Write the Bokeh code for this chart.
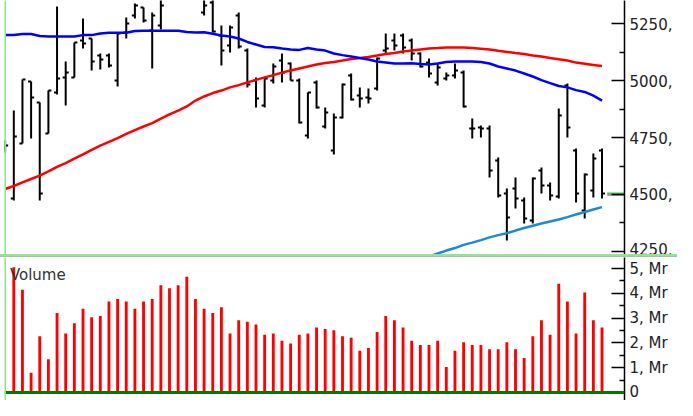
from bokeh.plotting import figure
from bokeh.models import Range1d, LinearAxis, FixedTicker, Span, Label, Div, Grid
from bokeh.layouts import column
from bokeh.embed import file_html
from bokeh.resources import INLINE

# ---- data ----
opens = [4702, 4482, 4724, 4997, 4904, 4768, 4948, 5014, 5014, 5177,
         5186, 5111, 5111, 5001, 5212, 5287, 5323, 5221, 5243, 5441,
         5485, 5529, 5463, 5300, 5345, 5199, 5155, 5287, 5133, 5001,
         4891, 5001, 5089, 5076, 5001, 4759, 4993, 4799, 4693, 4838,
         5023, 4935, 4926, 4966, 5133, 5177, 5199, 5177, 5120, 5080,
         4993, 5010, 5023, 5036, 4790, 4794, 4790, 4649, 4504, 4526,
         4473, 4385, 4605, 4539, 4491, 4979, 4693, 4429, 4517, 4693]
highs = [4737, 4869, 5006, 4997, 4904, 4957, 5327, 5085, 5168, 5274,
         5186, 5120, 5120, 5208, 5278, 5340, 5323, 5300, 5375, 5573,
         5595, 5617, 5551, 5362, 5362, 5243, 5243, 5300, 5142, 5014,
         5014, 5076, 5120, 5080, 5010, 4948, 5001, 4882, 4856, 4988,
         5032, 4971, 4966, 5102, 5208, 5208, 5208, 5186, 5124, 5098,
         5076, 5036, 5076, 5045, 4834, 4803, 4803, 4662, 4526, 4574,
         4486, 4574, 4618, 4552, 4878, 4988, 4702, 4592, 4680, 4702]
lows = [4684, 4473, 4724, 4746, 4473, 4768, 4940, 4891, 5014, 5142,
        5045, 5050, 5058, 4975, 5186, 5274, 5256, 5054, 5226, 5389,
        5419, 5441, 5366, 5287, 5212, 5067, 5124, 5142, 4970, 4882,
        4882, 4988, 4993, 5001, 4812, 4746, 4878, 4790, 4676, 4834,
        4913, 4882, 4900, 4957, 5120, 5133, 5120, 5089, 5058, 5014,
        4979, 5001, 5010, 4882, 4746, 4750, 4574, 4486, 4297, 4438,
        4372, 4372, 4504, 4473, 4482, 4750, 4464, 4394, 4486, 4482]
closes = [4715, 4755, 5006, 4927, 4504, 4957, 5010, 5036, 5168, 5164,
          5085, 5094, 5067, 5208, 5252, 5331, 5265, 5287, 5331, 5485,
          5529, 5463, 5397, 5331, 5217, 5133, 5234, 5151, 4984, 4922,
          5010, 5063, 5036, 5001, 4816, 4948, 4882, 4860, 4838, 4984,
          4918, 4922, 4922, 5098, 5142, 5155, 5146, 5120, 5063, 5032,
          5058, 5023, 5045, 4887, 4790, 4790, 4605, 4495, 4398, 4482,
          4394, 4570, 4539, 4495, 4847, 4794, 4504, 4588, 4658, 4504]

ma_fast = [5201, 5201, 5206, 5206, 5197, 5195, 5195, 5195, 5195, 5201,
           5201, 5208, 5211, 5211, 5211, 5219, 5220, 5220, 5220, 5220,
           5220, 5215, 5213, 5214, 5207, 5199, 5195, 5186, 5171, 5160,
           5149, 5148, 5142, 5138, 5136, 5144, 5138, 5133, 5120, 5113,
           5107, 5100, 5094, 5085, 5081, 5076, 5076, 5077, 5074, 5072,
           5076, 5083, 5085, 5085, 5085, 5083, 5076, 5063, 5054, 5045,
           5032, 5019, 5003, 4990, 4977, 4971, 4959, 4951, 4935, 4913]
ma_slow = [4524, 4537, 4553, 4568, 4583, 4601, 4621, 4638, 4658, 4676,
           4696, 4715, 4731, 4748, 4766, 4783, 4799, 4814, 4834, 4852,
           4869, 4887, 4913, 4931, 4946, 4957, 4971, 4981, 4993, 5004,
           5015, 5025, 5036, 5045, 5054, 5063, 5072, 5078, 5083, 5089,
           5096, 5100, 5105, 5111, 5118, 5122, 5129, 5133, 5138, 5142,
           5144, 5147, 5147, 5147, 5144, 5141, 5138, 5132, 5127, 5122,
           5118, 5111, 5107, 5100, 5095, 5089, 5080, 5075, 5070, 5065]
lower_line_start = 46
lower_line = [4187, 4201, 4214, 4227, 4240, 4253, 4264, 4278, 4288, 4299,
              4311, 4321, 4329, 4341, 4352, 4362, 4372, 4381, 4390, 4400,
              4412, 4423, 4434, 4444]

volume = [5.05, 4.14, 0.80, 2.27, 1.34, 3.21, 2.38, 2.79, 3.38, 3.03,
          3.08, 3.67, 3.77, 3.67, 3.38, 3.67, 3.77, 4.32, 4.20, 4.32,
          4.67, 3.77, 3.38, 3.21, 3.44, 2.38, 2.91, 2.85, 2.74, 2.33,
          2.38, 2.09, 1.98, 2.33, 2.38, 2.62, 2.56, 2.51, 2.27, 2.21,
          1.68, 1.79, 2.44, 3.08, 2.91, 2.62, 2.09, 1.92, 1.92, 2.09,
          1.03, 1.68, 2.03, 1.92, 1.92, 1.74, 1.74, 2.03, 1.74, 1.39,
          2.27, 2.91, 2.33, 4.39, 3.67, 2.38, 4.03, 2.91, 2.62]

price_ticks = [4250, 4500, 4750, 5000, 5250]
price_tick_labels = ["4250,", "4500,", "4750,", "5000,", "5250,"]
price_minor_ticks = [4375, 4625, 4875, 5125]
vol_ticks = [0, 1, 2, 3, 4, 5]
vol_tick_labels = ["0", "1, Mr", "2, Mr", "3, Mr", "4, Mr", "5, Mr"]
vol_minor_ticks = [0.5, 1.5, 2.5, 3.5, 4.5]

# ---- layout / styles ----
W = 677
FONT = "DejaVu Sans"
TXT = "#222222"
X0, X1 = -0.075, 71.6
TICK = 0.35

idx = list(range(len(closes)))
vol_idx = list(range(1, len(volume) + 1))
band_idx = list(range(lower_line_start, lower_line_start + len(lower_line)))


def style_axis(ax, ticks, minor, labels):
    ax.ticker = FixedTicker(ticks=ticks, minor_ticks=minor)
    ax.major_label_overrides = dict(zip(ticks, labels))
    ax.axis_line_color = "black"
    ax.axis_line_width = 1.5
    ax.major_tick_in = 13
    ax.major_tick_out = 0
    ax.minor_tick_in = 5
    ax.minor_tick_out = 0
    ax.major_tick_line_width = 1.5
    ax.minor_tick_line_width = 1.5
    ax.major_tick_line_color = "black"
    ax.minor_tick_line_color = "black"
    ax.major_label_standoff = 5
    ax.major_label_text_font = FONT
    ax.major_label_text_font_size = "15px"
    ax.major_label_text_color = TXT


def base_fig(h, yr):
    f = figure(width=W, height=h, x_range=Range1d(X0, X1), y_range=yr,
               output_backend="svg", toolbar_location=None,
               x_axis_location=None, y_axis_location=None,
               min_border_left=4, min_border_right=53,
               min_border_top=0, min_border_bottom=0,
               outline_line_color=None, background_fill_color="white",
               border_fill_color="white")
    for r in list(f.center):
        if isinstance(r, Grid):
            r.visible = False
    return f


# ---- price panel ----
p = base_fig(254, Range1d(4235.7, 5353.3))
p.segment(x0=idx, y0=lows, x1=idx, y1=highs, line_color="black", line_width=2)
p.segment(x0=[i - TICK for i in idx], y0=opens, x1=idx, y1=opens,
          line_color="black", line_width=2)
p.segment(x0=idx, y0=closes, x1=[i + TICK for i in idx], y1=closes,
          line_color="black", line_width=2)
p.line(idx, ma_slow, line_color="#ff0000", line_width=2.5)
p.line(idx, ma_fast, line_color="#0000ff", line_width=2.5)
p.line(band_idx, lower_line, line_color="#1b8ad3", line_width=2.5)
last_x = idx[-1] + 0.6
p.segment(x0=[last_x], y0=[closes[-1] - 7], x1=[X1], y1=[closes[-1] - 7],
          line_color="#e040e0", line_width=1.5)
p.segment(x0=[last_x], y0=[closes[-1]], x1=[X1], y1=[closes[-1]],
          line_color="#22dd22", line_width=2)
pax = LinearAxis()
style_axis(pax, price_ticks, price_minor_ticks, price_tick_labels)
p.add_layout(pax, "right")
p.add_layout(Span(location=X0, dimension="height", line_color="#88e888", line_width=3))

sep = Div(text="", width=W, height=3, margin=0,
          styles={"background": "linear-gradient(#8fe88f 0px, #8fe88f 2px, #b8b8b8 2px, #b8b8b8 3px)"})

# ---- volume panel ----
v = base_fig(143, Range1d(-0.323, 5.444))
v.vbar(x=vol_idx, top=volume, bottom=0, width=0.33, fill_color="#ff0000", line_color=None)
v.add_layout(Span(location=0, dimension="width", line_color="#007a00", line_width=3))
v.add_layout(Span(location=X0, dimension="height", line_color="#88e888", line_width=3))
v.add_layout(Label(x=0.55, y=5.1, text="Volume", text_font=FONT, text_font_size="15px",
                   text_color="#333333", text_baseline="top"))
vax = LinearAxis()
style_axis(vax, vol_ticks, vol_minor_ticks, vol_tick_labels)
v.add_layout(vax, "right")

layout = column(p, sep, v, spacing=0)
open("out.html", "w").write(file_html(layout, INLINE))
